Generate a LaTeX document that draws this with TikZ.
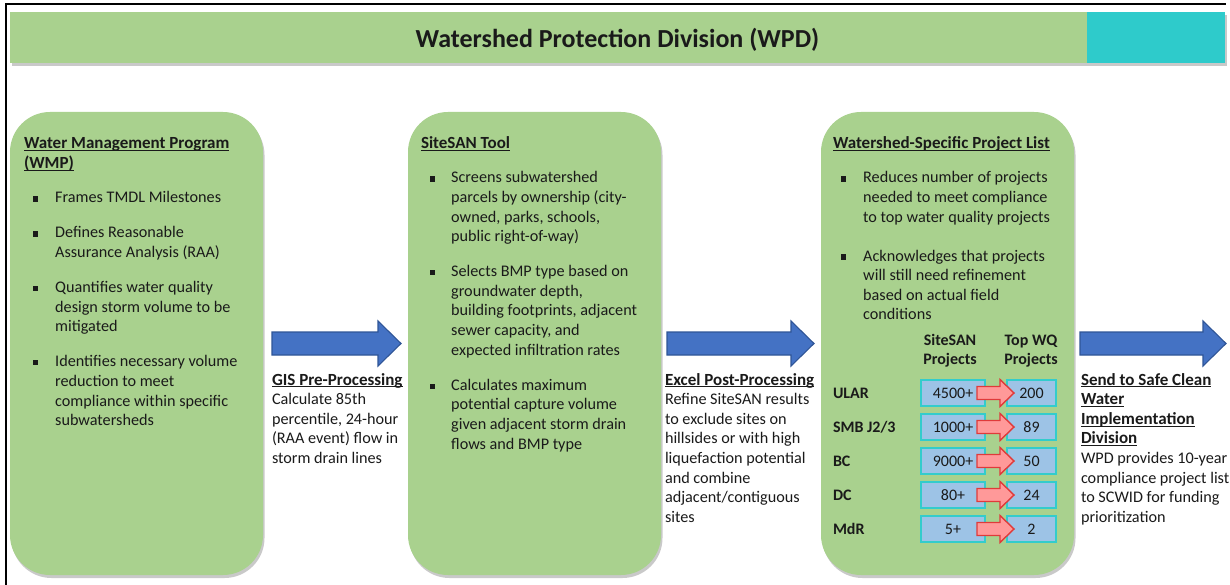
\documentclass[tikz,border=0pt]{standalone}
\usepackage{fontspec}
\setmainfont{Carlito}
\usetikzlibrary{shadows}

\definecolor{panelgreen}{HTML}{A9D18E}
\definecolor{bannerteal}{HTML}{2ECBCB}
\definecolor{arrowblue}{HTML}{4472C4}
\definecolor{arrowedge}{HTML}{2F5597}
\definecolor{cellblue}{HTML}{9DC3E6}
\definecolor{celledge}{HTML}{33CCCC}
\definecolor{pinkfill}{HTML}{FF9999}
\definecolor{rededge}{HTML}{E03A3A}
\definecolor{inktext}{HTML}{1A1A1A}

% square bullet, heading underline, bold underlined heading
\newcommand\sqb{\rule[1.3pt]{5.2pt}{5.2pt}}
\newcommand\hdl[1]{\setbox0\hbox{#1}\rlap{\rule[-2.4pt]{\wd0}{1.1pt}}\box0}
\newcommand\hd[1]{{\fontsize{17}{19.6}\selectfont\bfseries\hdl{#1}}}
\newcommand\igap{15.4pt}

\tikzset{
  every node/.style={inner sep=0pt, outer sep=0pt, text=inktext},
  body/.style={font=\fontsize{16.2}{19.6}\selectfont, anchor=base west},
  softshadow/.style={drop shadow={shadow xshift=1.5pt, shadow yshift=-3pt, opacity=0.35, fill=black!60}},
  panel/.style={fill=panelgreen, rounded corners=40pt, softshadow, anchor=north west,
                minimum width=253pt, minimum height=463pt},
  bannerpart/.style={softshadow, anchor=north west, minimum height=51pt},
  bluearr/.style={fill=arrowblue, draw=arrowedge, line width=1.1pt, line join=miter},
  cell/.style={fill=cellblue, draw=celledge, line width=1.9pt, minimum height=26pt,
               font=\fontsize{16}{19}\selectfont},
  rowlabel/.style={font=\fontsize{16}{19}\selectfont\bfseries, anchor=base west},
  colhead/.style={font=\fontsize{16}{19}\selectfont\bfseries, anchor=base},
  redarr/.style={fill=pinkfill, draw=rededge, line width=1.4pt, line join=miter}
}

% block arrow between stages: left x, tip x
\newcommand\bluearrow[2]{%
  \filldraw[bluearr] (#1,332) -- (#2-23,332) -- (#2-23,321) -- (#2,343.5)
    -- (#2-23,366) -- (#2-23,355) -- (#1,355) -- cycle;}

% one row of the project table: index, watershed, SiteSAN count, top WQ count
\newcommand\wqrow[4]{%
  \pgfmathsetmacro\rc{393+34*#1}
  \node[rowlabel] (lab#1) at (833,\rc+5.5) {#2};
  \node[cell, minimum width=64pt] (ss#1) at (953,\rc) {#3};
  \node[cell, minimum width=49pt] (wq#1) at (1031.5,\rc) {#4};
  \filldraw[redarr] (977,\rc-6.5) -- (1000,\rc-6.5) -- (1000,\rc-13.5) -- (1014,\rc)
    -- (1000,\rc+13.5) -- (1000,\rc+6.5) -- (977,\rc+6.5) -- cycle;}

\begin{document}
\begin{tikzpicture}[x=1pt, y=-1pt]
\useasboundingbox (0,0) rectangle (1230,585);
\fill[white] (0,0) rectangle (1230,585);

% outer frame (top and left edges)
\draw[line width=2.2pt, black] (6,585) -- (6,3.8) -- (1226,3.8);

% title banner
\node[bannerpart, fill=panelgreen, minimum width=1077pt] (bannergreen) at (10,12) {};
\node[bannerpart, fill=bannerteal, minimum width=138pt] (bannerteal) at (1087,12) {};
\node[font=\fontsize{26}{30}\selectfont\bfseries] (title) at (617.5,40) {Watershed Protection Division (WPD)};

% stage panels
\node[panel] (wmp) at (10,112) {};
\node[panel] (sitesan) at (408,112) {};
\node[panel] (wslist) at (821,112) {};

% Water Management Program
\node[body] (wmphead) at (24,149) {\begin{tabular}[t]{@{}l@{}}\hd{Water Management Program}\\\hd{(WMP)}\end{tabular}};
\node[body] (wmplist) at (33,203) {\begin{tabular}[t]{@{}l@{\hspace{17pt}}l@{}}
\sqb & Frames TMDL Milestones\\[\igap]
\sqb & Defines Reasonable\\
     & Assurance Analysis (RAA)\\[\igap]
\sqb & Quantifies water quality\\
     & design storm volume to be\\
     & mitigated\\[\igap]
\sqb & Identifies necessary volume\\
     & reduction to meet\\
     & compliance within specific\\
     & subwatersheds
\end{tabular}};

% SiteSAN Tool
\node[body] (sitehead) at (421,149) {\hd{SiteSAN Tool}};
\node[body] (sitelist) at (430,183) {\begin{tabular}[t]{@{}l@{\hspace{16pt}}l@{}}
\sqb & Screens subwatershed\\
     & parcels by ownership (city-\\
     & owned, parks, schools,\\
     & public right-of-way)\\[\igap]
\sqb & Selects BMP type based on\\
     & groundwater depth,\\
     & building footprints, adjacent\\
     & sewer capacity, and\\
     & expected infiltration rates\\[\igap]
\sqb & Calculates maximum\\
     & potential capture volume\\
     & given adjacent storm drain\\
     & flows and BMP type
\end{tabular}};

% Watershed-Specific Project List
\node[body] (wshead) at (833,149) {\hd{Watershed-Specific Project List}};
\node[body] (wsbullets) at (841,183) {\begin{tabular}[t]{@{}l@{\hspace{17pt}}l@{}}
\sqb & Reduces number of projects\\
     & needed to meet compliance\\
     & to top water quality projects\\[19.2pt]
\sqb & Acknowledges that projects\\
     & will still need refinement\\
     & based on actual field\\
     & conditions
\end{tabular}};

% project table
\node[colhead] (sshead) at (950,345) {\begin{tabular}[t]{@{}c@{}}SiteSAN\\Projects\end{tabular}};
\node[colhead] (wqhead) at (1031,345) {\begin{tabular}[t]{@{}c@{}}Top WQ\\Projects\end{tabular}};
\wqrow{0}{ULAR}{4500+}{200}
\wqrow{1}{SMB J2/3}{1000+}{89}
\wqrow{2}{BC}{9000+}{50}
\wqrow{3}{DC}{80+}{24}
\wqrow{4}{MdR}{5+}{2}

% hand-off arrows
\bluearrow{272}{401}
\bluearrow{667}{814}
\bluearrow{1080}{1226}

% hand-off captions
\node[body] (gis) at (272,385) {\begin{tabular}[t]{@{}l@{}}
\hd{GIS Pre-Processing}\\
Calculate 85th\\
percentile, 24-hour\\
(RAA event) flow in\\
storm drain lines
\end{tabular}};
\node[body] (excel) at (665,385) {\begin{tabular}[t]{@{}l@{}}
\hd{Excel Post-Processing}\\
Refine SiteSAN results\\
to exclude sites on\\
hillsides or with high\\
liquefaction potential\\
and combine\\
adjacent/contiguous\\
sites
\end{tabular}};
\node[body] (scwid) at (1081,385) {\begin{tabular}[t]{@{}l@{}}
\hd{Send to Safe Clean}\\
\hd{Water}\\
\hd{Implementation}\\
\hd{Division}\\
WPD provides 10-year\\
compliance project list\\
to SCWID for funding\\
prioritization
\end{tabular}};
\end{tikzpicture}
\end{document}
